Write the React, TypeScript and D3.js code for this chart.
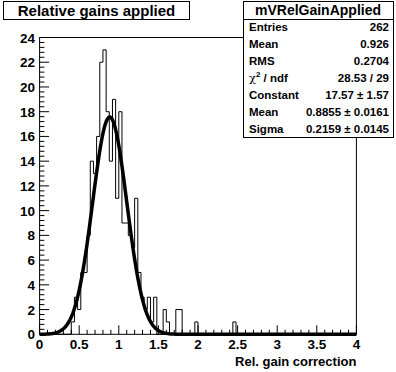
import React from "react";
import * as d3 from "d3";

const W = 396;
const H = 372;

// Histogram: 100 bins on [0, 4]
const binLow = 0;
const binHigh = 4;
const counts: number[] = [
  0, 0, 0, 0, 0, 0, 0, 0, 0, 0,
  1, 3, 2, 5, 5, 8, 14, 13, 16, 22,
  23, 18, 14, 19, 11, 18, 9, 9, 8, 7,
  11, 5, 3, 2, 3, 1, 3, 0, 0, 2,
  1, 0, 0, 2, 2, 0, 0, 0, 0, 1,
  0, 0, 0, 0, 0, 0, 0, 0, 0, 0,
  0, 1, 0, 0, 0, 0, 0, 0, 0, 0,
  0, 0, 0, 0, 0, 0, 0, 0, 0, 0,
  0, 0, 0, 0, 0, 0, 0, 0, 0, 0,
  0, 0, 0, 0, 0, 0, 0, 0, 0, 0,
];

// Gaussian fit parameters
const fitConstant = 17.57;
const fitMean = 0.8855;
const fitSigma = 0.2159;

const xTickLabels = [0, 0.5, 1, 1.5, 2, 2.5, 3, 3.5, 4];
const yTickLabels = [0, 2, 4, 6, 8, 10, 12, 14, 16, 18, 20, 22, 24];

const histTitle = "Relative gains applied";
const xAxisTitle = "Rel. gain correction";
const statsName = "mVRelGainApplied";
const statsRows: [string, string][] = [
  ["Entries", "262"],
  ["Mean", "0.926"],
  ["RMS", "0.2704"],
  ["CHI2", "28.53 / 29"],
  ["Constant", "17.57 \u00b1 1.57"],
  ["Mean", "0.8855 \u00b1 0.0161"],
  ["Sigma", "0.2159 \u00b1 0.0145"],
];

const FONT = "'Liberation Sans', Arial, Helvetica, sans-serif";

export default function App() {
  const x0 = 39.6, x1 = 356.4, y0 = 334.3, y1 = 37.5;
  const x = d3.scaleLinear().domain([binLow, binHigh]).range([x0, x1]);
  const y = d3.scaleLinear().domain([0, 24]).range([y0, y1]);

  const nb = counts.length;
  const bw = (binHigh - binLow) / nb;
  const pts: [number, number][] = [[binLow, 0]];
  counts.forEach((c, i) => {
    pts.push([binLow + i * bw, c]);
    pts.push([binLow + (i + 1) * bw, c]);
  });
  pts.push([binHigh, 0]);
  const line = d3.line<[number, number]>().x((d) => x(d[0])).y((d) => y(d[1]));
  const histPath = line(pts) || "";

  const gauss = (v: number) => fitConstant * Math.exp(-0.5 * ((v - fitMean) / fitSigma) ** 2);
  const fitPts: [number, number][] = d3.range(0, 4.0001, 0.01).map((v) => [v, gauss(v)]);
  const fitPath = line(fitPts) || "";

  // ticks
  const xMinor = d3.range(0, 4.0001, 0.1);
  const yMinor = d3.range(0, 24.0001, 0.4);
  const xMajorLen = 9, xMinorLen = 4.5;
  const yMajorLen = 9.5, yMinorLen = 4.8;

  const sx0 = 243, sx1 = 393, sy0 = 1, sy1 = 137;
  const rowTop = 19;
  const rowH = (sy1 - rowTop) / statsRows.length;

  return (
    <svg width={W} height={H} style={{ position: "fixed", left: 0, top: 0, background: "#fff" }} fontFamily={FONT}>
      <rect x={0} y={0} width={W} height={H} fill="#fff" />
      {/* frame */}
      <rect x={x0} y={y1} width={x1 - x0} height={y0 - y1} fill="none" stroke="#000" strokeWidth={1} />
      {/* x ticks */}
      {xMinor.map((v, i) => {
        const major = i % 5 === 0;
        return (
          <line key={"xt" + i} x1={x(v)} x2={x(v)} y1={y0} y2={y0 - (major ? xMajorLen : xMinorLen)} stroke="#000" strokeWidth={1} />
        );
      })}
      {yMinor.map((v, i) => {
        const major = i % 5 === 0;
        return (
          <line key={"yt" + i} x1={x0} x2={x0 + (major ? yMajorLen : yMinorLen)} y1={y(v)} y2={y(v)} stroke="#000" strokeWidth={1} />
        );
      })}
      {xTickLabels.map((v) => (
        <text key={"xl" + v} x={x(v)} y={348.5} textAnchor="middle" fontSize={13.5} fontWeight="bold">
          {String(v)}
        </text>
      ))}
      {yTickLabels.map((v) => (
        <text key={"yl" + v} x={35} y={y(v) + 5} textAnchor="end" fontSize={13.5} fontWeight="bold">
          {String(v)}
        </text>
      ))}
      <text x={x1} y={366} textAnchor="end" fontSize={13} fontWeight="bold">
        {xAxisTitle}
      </text>
      {/* histogram */}
      <path d={histPath} fill="none" stroke="#000" strokeWidth={1} />
      {/* fit */}
      <path d={fitPath} fill="none" stroke="#000" strokeWidth={3.5} strokeLinejoin="round" />
      {/* title box */}
      <rect x={3.5} y={1.5} width={186} height={18} fill="#fff" stroke="#000" strokeWidth={1} />
      <text x={96.5} y={16} textAnchor="middle" fontSize={15} fontWeight="bold">
        {histTitle}
      </text>
      {/* stats box */}
      <rect x={sx0 + 0.5} y={sy0 + 0.5} width={sx1 - sx0} height={sy1 - sy0} fill="#fff" stroke="#000" strokeWidth={1} />
      <line x1={sx0} x2={sx1} y1={rowTop + 0.5} y2={rowTop + 0.5} stroke="#000" strokeWidth={1} />
      <text x={(sx0 + sx1) / 2} y={15} textAnchor="middle" fontSize={14} fontWeight="bold">
        {statsName}
      </text>
      {statsRows.map(([k, v], i) => {
        const cy = rowTop + rowH * (i + 0.5) + 4;
        return (
          <g key={"sr" + i}>
            {k === "CHI2" ? (
              <text x={sx0 + 6} y={cy} fontSize={11.5} fontWeight="bold">
                <tspan fontWeight="normal" fontFamily="'DejaVu Serif', serif" fontStyle="normal">{"\u03c7"}</tspan>
                <tspan dy={-5} fontSize={8}>2</tspan>
                <tspan dy={5}>{" / ndf"}</tspan>
              </text>
            ) : (
              <text x={sx0 + 6} y={cy} fontSize={11.5} fontWeight="bold">
                {k}
              </text>
            )}
            <text x={sx1 - 4} y={cy} textAnchor="end" fontSize={11.5} fontWeight="bold">
              {v}
            </text>
          </g>
        );
      })}
    </svg>
  );
}
